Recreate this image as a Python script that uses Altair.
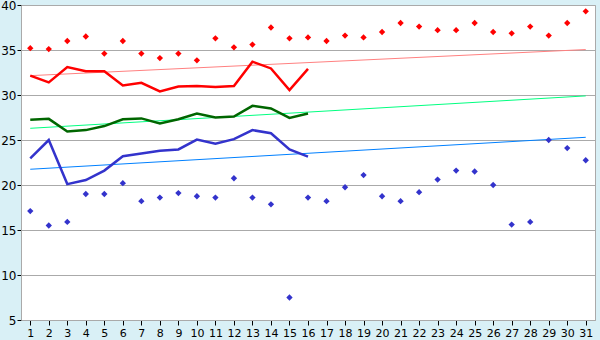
import altair as alt
import pandas as pd

days = list(range(1, 32))
max_pts = [35.2, 35.1, 36.0, 36.5, 34.6, 36.0, 34.6, 34.1, 34.6, 33.85,
           36.3, 35.3, 35.6, 37.5, 36.3, 36.4, 36.0, 36.6, 36.4, 37.0,
           38.0, 37.6, 37.2, 37.2, 38.0, 37.0, 36.85, 37.6, 36.6, 38.0, 39.3]
min_pts = [17.1, 15.5, 15.9, 19.0, 19.0, 20.2, 18.2, 18.6, 19.1, 18.75,
           18.6, 20.75, 18.6, 17.85, 7.5, 18.6, 18.2, 19.75, 21.1, 18.75,
           18.2, 19.2, 20.6, 21.6, 21.5, 20.0, 15.6, 15.9, 25.0, 24.1, 22.75]
line_days = list(range(1, 17))
red_line = [32.15, 31.4, 33.1, 32.65, 32.65, 31.05, 31.35, 30.4, 30.95, 31.0,
            30.9, 31.0, 33.7, 32.95, 30.55, 32.9]
green_line = [27.25, 27.35, 25.95, 26.1, 26.55, 27.3, 27.4, 26.85, 27.3, 27.95,
              27.5, 27.6, 28.8, 28.5, 27.45, 27.95]
blue_line = [22.95, 25.0, 20.1, 20.55, 21.6, 23.2, 23.5, 23.8, 23.95, 25.05,
             24.6, 25.1, 26.1, 25.75, 23.95, 23.15]
trend_days = [1, 31]
red_trend = [32.15, 35.05]
green_trend = [26.3, 29.9]
blue_trend = [21.75, 25.3]

pts = pd.DataFrame({"day": days, "max": max_pts, "min": min_pts})
lines = pd.DataFrame({"day": line_days, "red": red_line, "green": green_line, "blue": blue_line})
trends = pd.DataFrame({"day": trend_days, "red": red_trend, "green": green_trend, "blue": blue_trend})

xs = alt.Scale(domain=[0.5, 31.5], nice=False, zero=False)
ys = alt.Scale(domain=[5, 40], nice=False, zero=False)
xax = alt.Axis(values=days, title=None, grid=False, tickColor="#000000", tickSize=5,
               labelColor="#000000", labelFont="DejaVu Sans", labelFontSize=11,
               domainColor="#aaaaaa", labelPadding=2, labelFlush=False)
yax = alt.Axis(values=[5, 10, 15, 20, 25, 30, 35, 40], title=None, grid=True,
               gridColor="#aaaaaa", tickColor="#000000", tickSize=4,
               labelColor="#000000", labelFont="DejaVu Sans", labelFontSize=12,
               domainColor="#aaaaaa", labelPadding=1)

def X():
    return alt.X("day:Q", scale=xs, axis=xax)

base_axes = alt.Chart(pts).mark_point(opacity=0).encode(x=X(), y=alt.Y("max:Q", scale=ys, axis=yax))

layers = [base_axes]
for col, color in [("red", "#ff8080"), ("green", "#00ff80"), ("blue", "#0080ff")]:
    layers.append(alt.Chart(trends).mark_line(color=color, strokeWidth=1).encode(
        x=X(), y=alt.Y(f"{col}:Q", scale=ys)))
for col, color in [("red", "#ff0000"), ("green", "#006600"), ("blue", "#3333cc")]:
    layers.append(alt.Chart(lines).mark_line(color=color, strokeWidth=2.5, interpolate="linear").encode(
        x=X(), y=alt.Y(f"{col}:Q", scale=ys)))
layers.append(alt.Chart(pts).mark_point(shape="diamond", filled=True, size=40, color="#ff0000", opacity=1).encode(
    x=X(), y=alt.Y("max:Q", scale=ys)))
layers.append(alt.Chart(pts).mark_point(shape="diamond", filled=True, size=40, color="#3333cc", opacity=1).encode(
    x=X(), y=alt.Y("min:Q", scale=ys)))

chart = alt.layer(*layers).properties(
    width=574, height=315, background="#d9f0f6",
    autosize=alt.AutoSizeParams(type="none"),
    padding={"left": 21, "top": 5, "right": 5, "bottom": 20},
).configure_view(fill="#ffffff", stroke="#aaaaaa", strokeWidth=1)

chart.save("out.html", embed_options={"renderer": "svg", "actions": False})
